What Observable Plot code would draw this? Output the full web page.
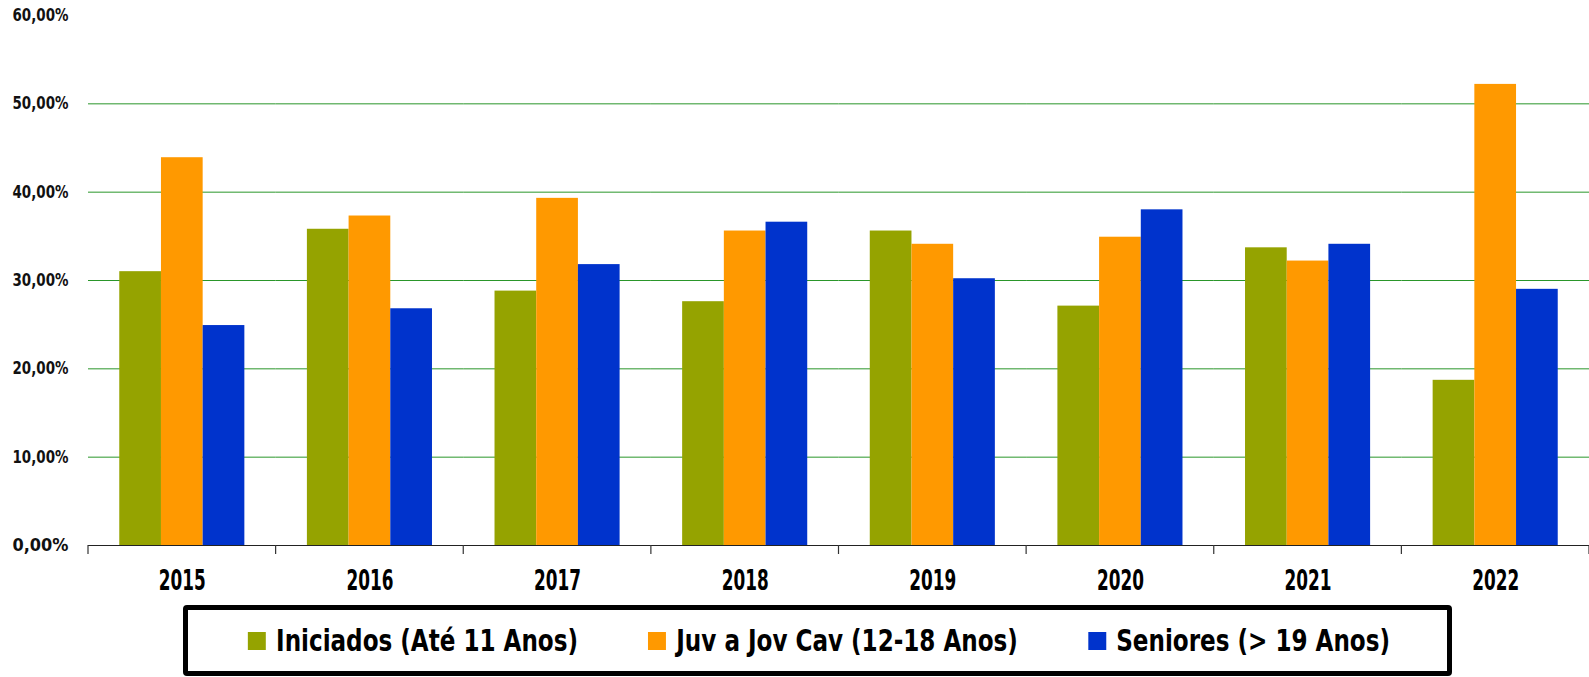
<!DOCTYPE html>
<html>
<head>
<meta charset="utf-8">
<script src="https://cdn.jsdelivr.net/npm/d3@7"></script>
<script src="https://cdn.jsdelivr.net/npm/@observablehq/plot@0.6"></script>
<style>
  html, body { margin: 0; padding: 0; background: #fff; }
  #chart { width: 1589px; }
  #legend {
    position: absolute; left: 183px; top: 605px;
    width: 1269px; height: 71px; box-sizing: border-box;
    border: 5px solid #000; border-radius: 4px;
    display: flex; align-items: center; justify-content: center;
    font-family: "DejaVu Sans Condensed", "DejaVu Sans", sans-serif;
    font-weight: bold; font-size: 30px; color: #000;
    padding-left: 3px;
  }
  #legend .inner { display: flex; align-items: center; gap: 82px; transform: scaleX(0.855); transform-origin: center; white-space: nowrap; }
  .item { display: flex; align-items: center; gap: 12px; }
  .sw { width: 21px; height: 18px; display: inline-block; }
</style>
</head>
<body>
<div id="chart"></div>
<div id="legend"><div class="inner"></div></div>
<script>
const years = ["2015", "2016", "2017", "2018", "2019", "2020", "2021", "2022"];
const series = ["Iniciados (Até 11 Anos)", "Juv a Jov Cav (12-18 Anos)", "Seniores (> 19 Anos)"];
const iniciados = [31.0, 35.8, 28.8, 27.6, 35.6, 27.1, 33.7, 18.7];
const juvenis   = [43.9, 37.3, 39.3, 35.6, 34.1, 34.9, 32.2, 52.2];
const seniores  = [24.9, 26.8, 31.8, 36.6, 30.2, 38.0, 34.1, 29.0];
const colors = ["#95A300", "#FF9900", "#0033CC"];
const yTicks = [0, 10, 20, 30, 40, 50, 60];
const gridTicks = [10, 20, 30, 40, 50];

const seriesValues = [iniciados, juvenis, seniores];
const data = years.flatMap((year, i) =>
  series.map((serie, s) => ({year, serie, value: seriesValues[s][i]})));

const plot = Plot.plot({
  width: 1589,
  height: 600,
  marginLeft: 88,
  marginRight: 0,
  marginTop: 15,
  marginBottom: 55,
  style: {fontFamily: "'DejaVu Sans Condensed', sans-serif", background: "#fff", overflow: "visible"},
  fx: {domain: years, padding: 0, round: false, label: null},
  x: {domain: series, paddingInner: 0, paddingOuter: 0.75, round: false, axis: null},
  y: {domain: [0, 60], label: null},
  color: {domain: series, range: colors},
  marks: [
    Plot.gridY(gridTicks, {stroke: "#2a962a", strokeOpacity: 1, strokeWidth: 1}),
    Plot.barY(data, {fx: "year", x: "serie", y: "value", fill: "serie", inset: 0}),
    Plot.ruleY([0], {stroke: "#222", strokeWidth: 1.2}),
    Plot.axisY(yTicks, {
      tickSize: 0, tickPadding: 20, label: null,
      tickFormat: d => d.toFixed(2).replace(".", ",") + "%",
      fontSize: 17, fontWeight: "bold", fill: "#111"
    }),
    Plot.axisFx({anchor: "bottom", tickSize: 0, tickPadding: 25, label: null, fontSize: 28, fontWeight: "bold", fill: "#000"})
  ]
});

document.getElementById("chart").appendChild(plot);

// condensed look for the tick labels
d3.select(plot).selectAll('g[aria-label="fx-axis tick label"] text')
  .attr("textLength", 47).attr("lengthAdjust", "spacingAndGlyphs");
d3.select(plot).selectAll('g[aria-label="y-axis tick label"] text')
  .attr("textLength", 56).attr("lengthAdjust", "spacingAndGlyphs");

// category boundary ticks below the baseline, placed with the fx scale
const fx = plot.scale("fx");
const y = plot.scale("y");
const y0 = y.apply(0);
const bounds = years.map(yr => fx.apply(yr)).concat([fx.apply(years[years.length - 1]) + fx.bandwidth]);
d3.select(plot).append("g")
  .selectAll("line").data(bounds).join("line")
  .attr("x1", d => d).attr("x2", d => d)
  .attr("y1", y0).attr("y2", y0 + 9)
  .attr("stroke", "#333").attr("stroke-width", 1.2);

// legend
const legend = d3.select("#legend .inner");
series.forEach((s, i) => {
  const it = legend.append("div").attr("class", "item");
  it.append("span").attr("class", "sw").style("background", colors[i]);
  it.append("span").text(s);
});
</script>
</body>
</html>
